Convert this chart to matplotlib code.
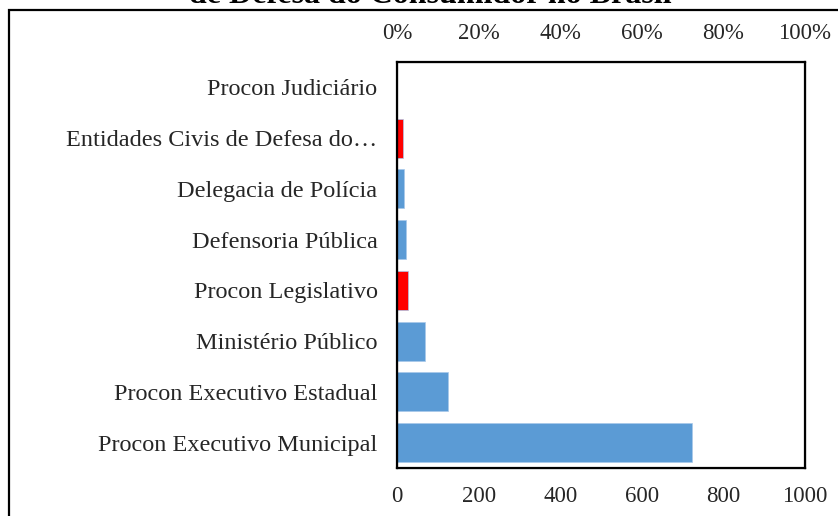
import matplotlib.pyplot as plt
from matplotlib.patches import Rectangle

categorias = ["Procon Executivo Municipal", "Procon Executivo Estadual",
              "Ministério Público", "Procon Legislativo", "Defensoria Pública",
              "Delegacia de Polícia", "Entidades Civis de Defesa do\u2026",
              "Procon Judiciário"]
valores = [722, 125, 69, 27, 21, 18, 14, 0]
destaque = [False, False, False, True, False, False, True, False]
ticks_baixo = [0, 200, 400, 600, 800, 1000]
ticks_cima = ["0%", "20%", "40%", "60%", "80%", "100%"]

plt.rcParams["font.family"] = ["Liberation Serif", "DejaVu Serif"]

azul = "#5B9BD5"
vermelho = "#FF0000"
cores = [vermelho if d else azul for d in destaque]

fig = plt.figure(figsize=(8.38, 5.16), dpi=100)
ax = fig.add_axes([397/838, 1-468/516, 408/838, 406/516])

ax.barh(range(len(categorias)), valores, height=0.77, color=cores,
        edgecolor="#a9c8ea", linewidth=0.5)
ax.set_yticks(range(len(categorias)))
ax.set_yticklabels(categorias, fontsize=17.5, color="#262626")
ax.set_ylim(-0.5, len(categorias) - 0.5)
ax.set_xlim(0, 1000)
ax.set_xticks(ticks_baixo)
ax.tick_params(axis="x", length=0, pad=13, labelsize=16.5, labelcolor="#262626")
ax.tick_params(axis="y", length=0, pad=14)
for s in ax.spines.values():
    s.set_linewidth(1.6)
    s.set_color("black")

ax2 = ax.twiny()
ax2.set_xlim(0, 1000)
ax2.set_xticks(ticks_baixo)
ax2.set_xticklabels(ticks_cima)
ax2.tick_params(axis="x", length=0, pad=13, labelsize=16.5, labelcolor="#262626")

# moldura externa (cortada a direita e embaixo)
fig.patches.append(Rectangle((9/838, -0.1), 1.0, 1 - 10/516 + 0.1,
                             transform=fig.transFigure, fill=False,
                             edgecolor="black", linewidth=1.6, clip_on=False))

fig.text(430/838, 1 - 3/516, "de Defesa do Consumidor no Brasil",
         ha="center", va="baseline", fontsize=23, fontweight="bold")

fig.savefig("out.png", dpi=100)
plt.close(fig)
